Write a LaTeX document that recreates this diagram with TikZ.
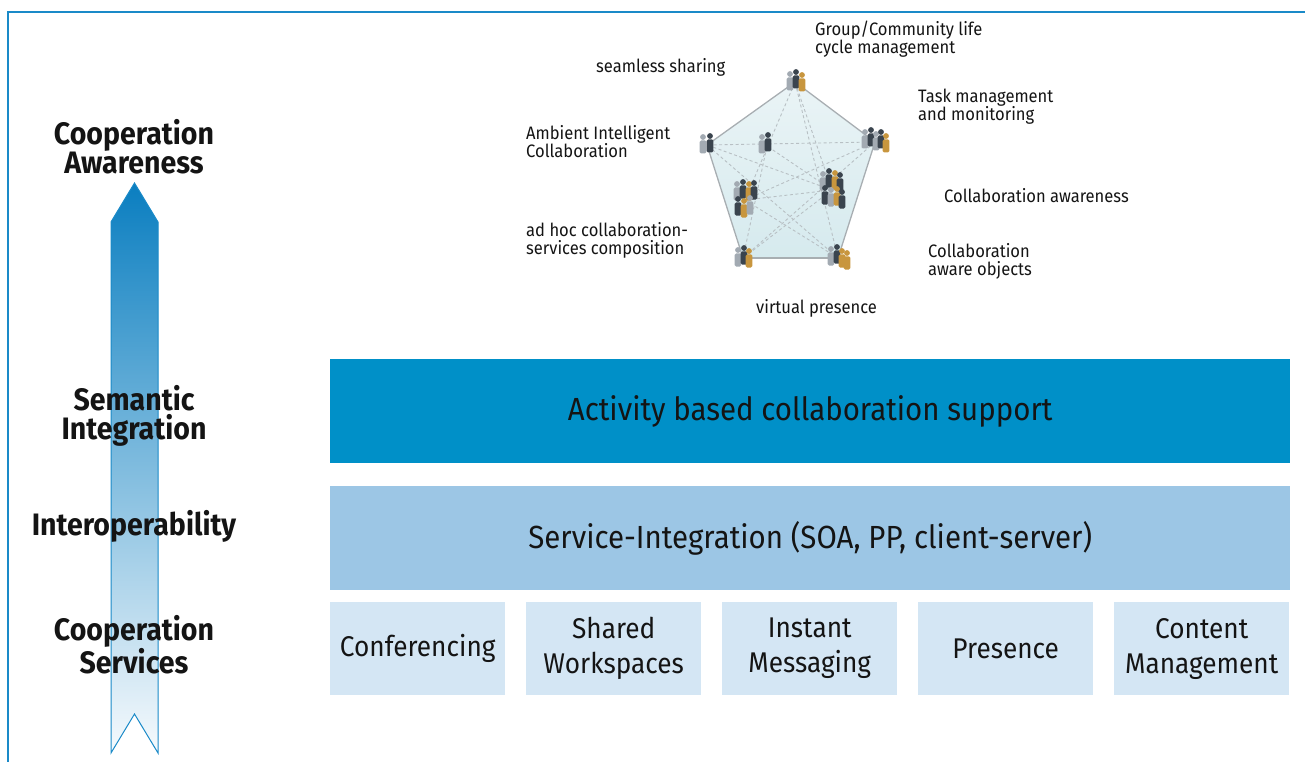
\documentclass[tikz,border=0pt]{standalone}
\usepackage{fontspec}
\setmainfont{Fira Sans}[FakeStretch=0.92]
\usetikzlibrary{positioning}
\definecolor{framecol}{HTML}{1A8AC8}
\definecolor{arrowtop}{HTML}{0A7EC0}
\definecolor{arrowmid}{HTML}{72B0DC}
\definecolor{arrowbot}{HTML}{F6FAFD}
\definecolor{actblue}{HTML}{0090C8}
\definecolor{intblue}{HTML}{9CC6E5}
\definecolor{srvblue}{HTML}{D4E6F4}
\definecolor{pentfill}{HTML}{D6EAEE}
\definecolor{pentfilltop}{HTML}{EAF4F6}
\definecolor{edgegray}{HTML}{A8AEB2}
\definecolor{dashgray}{HTML}{B8C0C4}
\definecolor{pdark}{HTML}{3A444E}
\definecolor{pgray}{HTML}{A2AAB2}
\definecolor{porange}{HTML}{C8963E}
\definecolor{txt}{HTML}{141414}
\tikzset{
  levellabel/.style={font=\fontsize{31}{29}\selectfont\bfseries, text=txt, align=center, inner sep=0pt},
  layerbox/.style={minimum width=960pt, minimum height=104pt, inner sep=0pt, anchor=north west,
    font=\fontsize{32}{34}\selectfont, text=txt},
  servicebox/.style={fill=srvblue, minimum width=175pt, minimum height=93pt, inner sep=0pt, anchor=north west,
    font=\fontsize{28.5}{35}\selectfont, text=txt, align=center},
  featlabel/.style={font=\fontsize{18}{18}\selectfont, text=txt, align=left, inner sep=0pt, anchor=west},
  vertex/.style={inner sep=0pt, minimum size=2pt},
  pentedge/.style={edgegray, line width=1.3pt},
  pentlink/.style={dashgray, line width=0.9pt, dash pattern=on 3pt off 2.5pt},
  pics/person/.style={code={
    \fill[#1] (0,-10) circle (2.9);
    \fill[#1, rounded corners=1.4] (-3.3,-6.6) rectangle (3.3,6.5);
  }}
}
\begin{document}
\begin{tikzpicture}[x=1pt,y=-1pt]
\useasboundingbox (0,0) rectangle (1305,762);

% frame
\coordinate (fbl) at (8,762);
\coordinate (ftl) at (8,12);
\coordinate (ftr) at (1305,12);
\draw[framecol, line width=1.5pt] (fbl) -- (ftl) -- (ftr);

% vertical level arrow
\shade[top color=arrowtop, middle color=arrowmid, bottom color=arrowbot]
  (111,222) -- (134.5,183) -- (158,222) -- (158,753) -- (134.5,714) -- (111,753) -- cycle;
\draw[framecol, line width=1pt]
  (111,222) -- (134.5,183) -- (158,222) -- (158,753) -- (134.5,714) -- (111,753) -- cycle;

% level labels
\node[levellabel] (lawareness) at (134,147) {Cooperation\\Awareness};
\node[levellabel] (lsemantic) at (134,416) {Semantic\\Integration};
\node[levellabel] (linterop) at (134,526) {Interoperability};
\node[levellabel] (lservices) at (134,645) {Cooperation\\Services};

% layers
\node[layerbox, fill=actblue] (activity) at (330,359) {Activity based collaboration support};
\node[layerbox, fill=intblue] (integration) at (330,486) {Service-Integration (SOA, PP, client-server)};

\node[servicebox] (conf) at (330,602) {Conferencing};
\node[servicebox] (shared) at (526,602) {Shared\\Workspaces};
\node[servicebox] (instant) at (722,602) {Instant\\Messaging};
\node[servicebox] (presence) at (918,602) {Presence};
\node[servicebox] (content) at (1114,602) {Content\\Management};

% collaboration pentagon
\node[vertex] (vtop) at (795,82) {};
\node[vertex] (vright) at (875,142) {};
\node[vertex] (vbr) at (838,258) {};
\node[vertex] (vbl) at (743,258) {};
\node[vertex] (vleft) at (707,145) {};
\node[vertex] (itop) at (767,146) {};
\node[vertex] (ileft) at (745,200) {};
\node[vertex] (iright) at (832,190) {};

\shade[top color=pentfilltop, bottom color=pentfill]
  (vtop.center) -- (vright.center) -- (vbr.center) -- (vbl.center) -- (vleft.center) -- cycle;

\draw[pentlink] (vleft) -- (vright);
\draw[pentlink] (vleft) -- (iright);
\draw[pentlink] (vleft) -- (vbr);
\draw[pentlink] (vtop) -- (ileft);
\draw[pentlink] (vtop) -- (vbr);
\draw[pentlink] (vtop) -- (iright);
\draw[pentlink] (itop) -- (vbl);
\draw[pentlink] (itop) -- (iright);
\draw[pentlink] (ileft) -- (vright);
\draw[pentlink] (ileft) -- (iright);
\draw[pentlink] (vbl) -- (vright);
\draw[pentlink] (vbl) -- (iright);
\draw[pentlink] (ileft) -- (vbr);

\draw[pentedge] (vtop) -- (vright);
\draw[pentedge] (vright) -- (vbr);
\draw[pentedge] (vbr) -- (vbl);
\draw[pentedge] (vbl) -- (vleft);
\draw[pentedge] (vleft) -- (vtop);

% people at the vertices
\pic at (790,84) {person=pgray};
\pic at (796,82) {person=pdark};
\pic at (802,85) {person=porange};

\pic at (865,142) {person=pgray};
\pic at (871,140) {person=pdark};
\pic at (876,144) {person=pgray};
\pic at (881,142) {person=pdark};
\pic at (886,146) {person=porange};

\pic at (703,147) {person=pgray};
\pic at (710,146) {person=pdark};

\pic at (762,147) {person=pgray};
\pic at (768,145) {person=pdark};

\pic at (737,194) {person=pgray};
\pic at (743,192) {person=pdark};
\pic at (749,194) {person=porange};
\pic at (754,193) {person=pdark};
\pic at (738,209) {person=pdark};
\pic at (744,211) {person=porange};
\pic at (750,208) {person=pgray};

\pic at (823,184) {person=pgray};
\pic at (829,181) {person=pdark};
\pic at (835,183) {person=porange};
\pic at (840,185) {person=pdark};
\pic at (825,198) {person=pdark};
\pic at (831,200) {person=pgray};
\pic at (837,199) {person=porange};
\pic at (842,202) {person=pdark};

\pic at (738,260) {person=pgray};
\pic at (744,258) {person=pdark};
\pic at (749,261) {person=porange};

\pic at (831,259) {person=pgray};
\pic at (837,257) {person=pdark};
\pic at (842,261) {person=porange};
\pic at (847,263) {person=porange};

% feature labels
\node[featlabel] (fgroup) at (815,39) {Group/Community life\\cycle management};
\node[featlabel] (fseam) at (596,67) {seamless sharing};
\node[featlabel] (ftask) at (918,107) {Task management\\and monitoring};
\node[featlabel] (fambient) at (526,142) {Ambient Intelligent\\Collaboration};
\node[featlabel] (faware) at (944,196) {Collaboration awareness};
\node[featlabel] (fadhoc) at (526,240) {ad hoc collaboration-\\services composition};
\node[featlabel] (fobjects) at (928,261) {Collaboration\\aware objects};
\node[featlabel] (fvirtual) at (756,308) {virtual presence};
\end{tikzpicture}
\end{document}
